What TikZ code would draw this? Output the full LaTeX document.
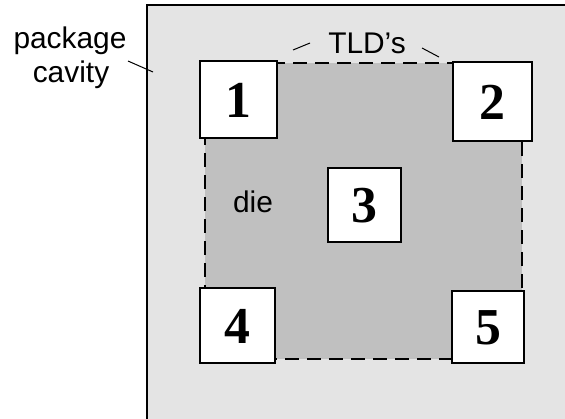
\documentclass[tikz,border=0pt]{standalone}
\usepackage{fontspec}
\setmainfont{Liberation Sans}
\newfontfamily\digitfont{Liberation Serif}
\begin{document}
\begin{tikzpicture}[x=1bp,y=-1bp,
  labeltext/.style={font=\fontsize{30}{34}\selectfont, inner sep=0pt, anchor=base},
  tldbox/.style={draw=black, line width=2bp, fill=white, inner sep=0pt,
    font=\digitfont\bfseries\fontsize{52}{52}\selectfont, text height=35bp, text depth=0bp},
  dieedge/.style={draw=black, line width=2bp, dash pattern=on 14bp off 8bp},
  leader/.style={draw=black, line width=1bp}]
\useasboundingbox (0,0) rectangle (565,418);
\begin{scope}
\clip (0,0) rectangle (565,418);
% package cavity
\path[draw=black, fill={rgb,255:red,228;green,228;blue,228}, line width=2bp] (147,5) rectangle (600,440);
\end{scope}
% die
\fill[fill={rgb,255:red,192;green,192;blue,192}] (205,63) rectangle (522,359);
\coordinate (dTL) at (205,63);
\coordinate (dTR) at (522,63);
\coordinate (dBR) at (522,359);
\coordinate (dBL) at (205,359);
\draw[dieedge] (dTL) -- (dTR) -- (dBR) -- (dBL) -- cycle;
% TLD boxes
\node[tldbox, minimum width=77bp, minimum height=77bp] (b1) at (238.5,99.5) {1};
\node[tldbox, minimum width=79bp, minimum height=79bp] (b2) at (492.5,101.5) {2};
\node[tldbox, minimum width=73bp, minimum height=74bp] (b3) at (364.5,205) {3};
\node[tldbox, minimum width=75bp, minimum height=75bp] (b4) at (237.5,325.5) {4};
\node[tldbox, minimum width=72bp, minimum height=72bp] (b5) at (488,327) {5};
% labels
\node[labeltext] (pkg) at (70,48) {package};
\node[labeltext] (cav) at (71,82) {cavity};
\node[labeltext] (tld) at (367,53) {TLD’s};
\node[labeltext] (die) at (253,212) {die};
% leader lines
\coordinate (p1) at (128,61);
\coordinate (p2) at (153,72);
\draw[leader] (p1) -- (p2);
\coordinate (t1) at (293,50);
\coordinate (t2) at (310,43);
\draw[leader] (t1) -- (t2);
\coordinate (t3) at (422,48);
\coordinate (t4) at (439,57);
\draw[leader] (t3) -- (t4);
\end{tikzpicture}
\end{document}
